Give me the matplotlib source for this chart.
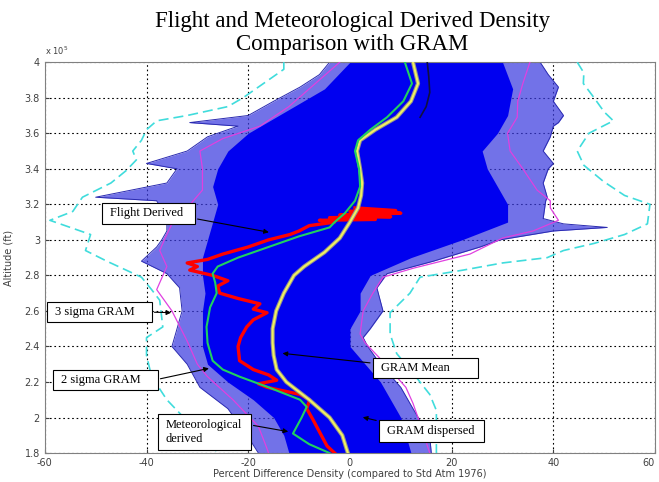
import numpy as np
import matplotlib
matplotlib.use("Agg")
import matplotlib.pyplot as plt
from matplotlib.ticker import FuncFormatter
from matplotlib.patches import Rectangle

# altitudes in units of 1e5 ft, values in percent difference

# GRAM mean
mean_alt = [4.00, 3.88, 3.78, 3.69, 3.62, 3.56, 3.50, 3.40, 3.32, 3.25, 3.18, 3.10, 3.01, 2.93,
            2.85, 2.80, 2.70, 2.60, 2.50, 2.42, 2.35, 2.27, 2.20, 2.10, 2.00, 1.90, 1.80]
mean_val = [12.4, 13.4, 12.0, 9.2, 5.0, 2.0, 1.4, 2.0, 2.4, 2.2, 1.6, 0.0, -2.0, -5.0,
            -9.0, -11.0, -13.0, -14.5, -15.2, -15.2, -15.0, -14.4, -12.5, -8.0, -4.0, -1.5, -0.4]

# dark line near the mean at the top
dark_alt = [4.00, 3.92, 3.83, 3.75, 3.69]
dark_val = [15.2, 15.5, 15.7, 15.0, 13.8]

# meteorological derived
met_alt = [4.00, 3.88, 3.78, 3.69, 3.62, 3.56, 3.50, 3.40, 3.30, 3.22, 3.15, 3.10, 3.07, 3.02,
           2.96, 2.90, 2.85, 2.81, 2.76, 2.70, 2.62, 2.51, 2.42, 2.32, 2.27, 2.23, 2.17, 2.10,
           2.06, 2.00, 1.91, 1.85, 1.80]
met_val = [10.8, 12.2, 10.5, 7.3, 4.0, 1.6, 1.0, 1.8, 2.0, 1.0, -1.0, -3.0, -4.0, -10.0,
           -16.0, -22.0, -26.0, -27.0, -26.5, -26.2, -27.5, -28.2, -28.0, -27.0, -25.0, -21.7, -16.0, -9.8,
           -8.5, -9.5, -11.2, -8.0, -4.0]

# flight derived
fl_alt = [3.18, 3.165, 3.16, 3.15, 3.14, 3.13, 3.125, 3.115, 3.11, 3.10, 3.08, 3.05, 3.03, 3.00,
          2.96, 2.92, 2.89, 2.87, 2.85, 2.83, 2.80, 2.77, 2.74, 2.70, 2.67, 2.64, 2.61, 2.59,
          2.55, 2.51, 2.45, 2.40, 2.32, 2.27, 2.24, 2.21, 2.19, 2.17, 2.13, 2.10, 2.05, 1.99,
          1.92, 1.84, 1.80]
fl_val = [1.0, 9.0, 0.0, 10.0, -2.0, 8.0, -4.0, 5.0, -6.0, -3.0, -8.0, -10.0, -11.8, -16.0,
          -20.0, -25.0, -28.0, -32.0, -30.0, -31.5, -27.0, -24.0, -26.0, -25.6, -22.0, -17.7, -19.0, -16.3,
          -19.0, -20.3, -21.5, -22.0, -21.7, -19.0, -16.0, -14.4, -18.0, -16.3, -9.8, -7.9, -8.5, -7.3,
          -6.0, -4.5, -3.0]

# 2 sigma GRAM
s2lo_alt = [4.00, 3.85, 3.75, 3.64, 3.57, 3.50, 3.40, 3.28, 3.18, 3.09, 3.00, 2.94, 2.85, 2.72,
            2.60, 2.43, 2.30, 2.23, 2.10, 1.95, 1.84, 1.80]
s2lo_val = [-2.0, -8.0, -12.0, -17.7, -25.0, -29.5, -29.0, -29.0, -32.0, -35.0, -36.5, -37.4, -36.0, -38.0,
            -35.0, -32.0, -30.0, -28.0, -23.0, -18.0, -16.5, -16.0]
s2hi_alt = [4.00, 3.88, 3.78, 3.69, 3.60, 3.50, 3.40, 3.28, 3.22, 3.18, 3.11, 3.05, 3.01, 2.92,
            2.84, 2.79, 2.70, 2.60, 2.47, 2.42, 2.30, 2.17, 2.08, 1.95, 1.80]
s2hi_val = [35.4, 34.0, 33.0, 32.9, 31.0, 31.5, 34.0, 36.8, 39.4, 39.4, 41.0, 36.0, 30.0, 23.6,
            12.4, 6.5, 4.5, 2.6, 2.0, 3.0, 7.0, 11.0, 12.4, 14.0, 15.7]

# 3 sigma GRAM
s3lo_alt = [4.00, 3.96, 3.88, 3.80, 3.75, 3.70, 3.67, 3.62, 3.56, 3.50, 3.45, 3.39, 3.32, 3.24,
            3.16, 3.11, 3.03, 2.94, 2.88, 2.79, 2.72, 2.66, 2.51, 2.45, 2.35, 2.23, 2.10, 1.98,
            1.84, 1.80]
s3lo_val = [-13.0, -13.0, -17.0, -21.0, -24.0, -32.0, -38.0, -40.0, -41.0, -42.7, -42.0, -44.0, -47.0, -52.6,
            -54.5, -59.0, -51.0, -52.0, -47.8, -41.0, -39.0, -37.4, -36.8, -40.0, -40.0, -39.0, -36.0, -32.0,
            -27.0, -26.0]
s3hi_alt = [4.00, 3.94, 3.88, 3.80, 3.72, 3.67, 3.60, 3.50, 3.42, 3.33, 3.25, 3.20, 3.09, 3.03,
            2.98, 2.94, 2.90, 2.87, 2.83, 2.79, 2.70, 2.59, 2.47, 2.36, 2.25, 2.13, 2.04, 1.87, 1.80]
s3hi_val = [44.7, 46.0, 45.9, 48.0, 50.0, 51.8, 47.0, 44.7, 46.0, 49.8, 54.0, 59.0, 58.5, 54.0,
            48.0, 42.0, 38.8, 30.0, 22.3, 13.8, 11.8, 7.9, 7.9, 9.2, 12.4, 15.7, 17.0, 17.0, 17.0]

# GRAM dispersed: outer envelope and dense core
disp_alt = [4.00, 3.93, 3.86, 3.78, 3.70, 3.66, 3.64, 3.58, 3.50, 3.43, 3.40, 3.32, 3.24, 3.22,
            3.12, 3.09, 3.07, 3.05, 3.00, 2.96, 2.88, 2.81, 2.73, 2.60, 2.50, 2.45, 2.40, 2.30,
            2.17, 2.05, 1.89, 1.80]
disp_lo = [-4.0, -6.0, -9.8, -15.0, -20.0, -31.5, -22.0, -28.0, -32.0, -40.0, -34.0, -36.0, -50.0, -38.0,
           -36.0, -36.0, -36.0, -36.0, -37.0, -38.0, -41.0, -36.0, -33.5, -33.0, -34.0, -34.5, -35.0, -32.0,
           -29.5, -24.0, -20.0, -18.0]
disp_hi = [37.4, 39.0, 41.0, 40.0, 42.0, 41.0, 40.0, 39.4, 38.0, 40.0, 39.0, 38.0, 38.8, 38.5,
           38.0, 42.0, 50.6, 40.0, 29.5, 25.6, 16.4, 7.3, 5.3, 6.5, 4.0, 2.6, 3.5, 6.0,
           10.0, 12.4, 15.7, 16.0]
core_alt = [4.00, 3.85, 3.70, 3.60, 3.50, 3.40, 3.30, 3.20, 3.10, 3.00, 2.90, 2.80, 2.70, 2.60,
            2.50, 2.40, 2.30, 2.20, 2.10, 2.00, 1.90, 1.80]
core_lo = [0.0, -5.0, -14.0, -20.0, -24.0, -26.0, -27.0, -26.0, -27.0, -28.0, -29.0, -29.0, -28.5, -29.0,
           -29.0, -29.0, -28.0, -24.0, -19.0, -15.0, -13.0, -12.0]
core_hi = [30.0, 32.0, 31.0, 29.0, 26.0, 27.0, 29.0, 31.0, 31.0, 22.0, 12.0, 4.0, 2.0, 2.0,
           0.0, 0.0, 3.0, 6.0, 8.0, 10.0, 11.0, 12.0]

FT = 1e5


def ft(a):
    return np.array(a) * FT


fig = plt.figure(figsize=(6.59, 4.82), dpi=100)
ax = fig.add_axes([0.068, 0.060, 0.926, 0.811])

# dispersed cloud
ax.fill_betweenx(ft(disp_alt), disp_lo, disp_hi, color='#3c3ce0', alpha=0.72, lw=0, zorder=1)
ax.plot(disp_lo, ft(disp_alt), color='#2a2ab0', lw=0.7, zorder=1.5)
ax.plot(disp_hi, ft(disp_alt), color='#2a2ab0', lw=0.7, zorder=1.5)
ax.fill_betweenx(ft(core_alt), core_lo, core_hi, color='#0000f0', lw=0, zorder=2)

# sigma bounds
ax.plot(s2lo_val, ft(s2lo_alt), color='#e040e0', lw=0.9, zorder=3)
ax.plot(s2hi_val, ft(s2hi_alt), color='#e040e0', lw=0.9, zorder=3)
ax.plot(s3lo_val, ft(s3lo_alt), color='#40dcdc', lw=1.2, ls=(0, (6, 3)), zorder=3)
ax.plot(s3hi_val, ft(s3hi_alt), color='#40dcdc', lw=1.2, ls=(0, (6, 3)), zorder=3)

# flight, meteorological, mean
ax.plot(fl_val, ft(fl_alt), color='#ff0000', lw=2.4, zorder=4)
ax.plot(dark_val, ft(dark_alt), color='#101040', lw=1.2, zorder=4)
ax.plot(mean_val, ft(mean_alt), color='#909090', lw=3.0, zorder=5)
ax.plot(mean_val, ft(mean_alt), color='#f0f060', lw=1.5, zorder=5.5)
ax.plot(met_val, ft(met_alt), color='#20d060', lw=1.5, zorder=6)

ax.set_xlim(-60, 60)
ax.set_ylim(1.8 * FT, 4.0 * FT)
ax.set_xticks(np.arange(-60, 61, 20))
ax.set_yticks(np.arange(1.8, 4.01, 0.2) * FT)
ax.yaxis.set_major_formatter(FuncFormatter(lambda v, p: '%g' % round(v / FT, 2)))
ax.xaxis.set_major_formatter(FuncFormatter(lambda v, p: '%g' % v))
ax.set_axisbelow(True)
ax.grid(True, color='black', ls=(0, (1.5, 2.5)), lw=0.8)
ax.tick_params(direction='in', labelsize=7, colors='#404040', length=3)
ax.get_xticklabels()[-1].set_ha('right')
for s in ax.spines.values():
    s.set_color('#808080')

ax.text(-60, 4.03 * FT, r'x 10$^5$', fontsize=6, color='#404040', ha='left', va='bottom')
ax.set_xlabel('Percent Difference Density (compared to Std Atm 1976)', fontsize=7, color='#404040', labelpad=1)
ax.set_ylabel('Altitude (ft)', fontsize=7, color='#404040', labelpad=8)

fig.suptitle('Flight and Meteorological Derived Density\nComparison with GRAM',
             family='Liberation Serif', fontsize=16.5, y=0.978, x=0.535, linespacing=1.12)

# annotation boxes: (x0, x1, y0, y1), text, text y, arrow tail, arrow head
boxes = [
    ((-48.8, -30.5, 3.088, 3.207), 'Flight Derived', 3.15, (-30.5, 3.12), (-15.4, 3.04)),
    ((-59.6, -39.0, 2.537, 2.650), '3 sigma GRAM', 2.593, (-39.0, 2.593), (-34.6, 2.59)),
    ((-58.4, -37.8, 2.154, 2.267), '2 sigma GRAM', 2.21, (-37.8, 2.215), (-27.2, 2.28)),
    ((-37.8, -19.5, 1.817, 2.019), 'Meteorological\nderived', 1.918, (-19.5, 1.958), (-11.6, 1.918)),
    ((4.5, 25.2, 2.222, 2.335), 'GRAM Mean', 2.278, (4.5, 2.306), (-13.8, 2.363)),
    ((5.7, 26.4, 1.862, 1.986), 'GRAM dispersed', 1.924, (5.7, 1.98), (2.0, 2.005)),
]
for (x0, x1, y0, y1), label, ty, tail, head in boxes:
    ax.add_patch(Rectangle((x0, y0 * FT), x1 - x0, (y1 - y0) * FT, fc='white', ec='black',
                           lw=0.8, zorder=8))
    ax.text(x0 + 1.6, ty * FT, label, family='Liberation Serif', fontsize=9, va='center',
            ha='left', zorder=9, linespacing=1.2)
    ax.annotate('', xy=(head[0], head[1] * FT), xytext=(tail[0], tail[1] * FT),
                arrowprops=dict(arrowstyle='-|>', color='black', lw=0.8, mutation_scale=7),
                zorder=9)

fig.savefig('out.png', dpi=100)
